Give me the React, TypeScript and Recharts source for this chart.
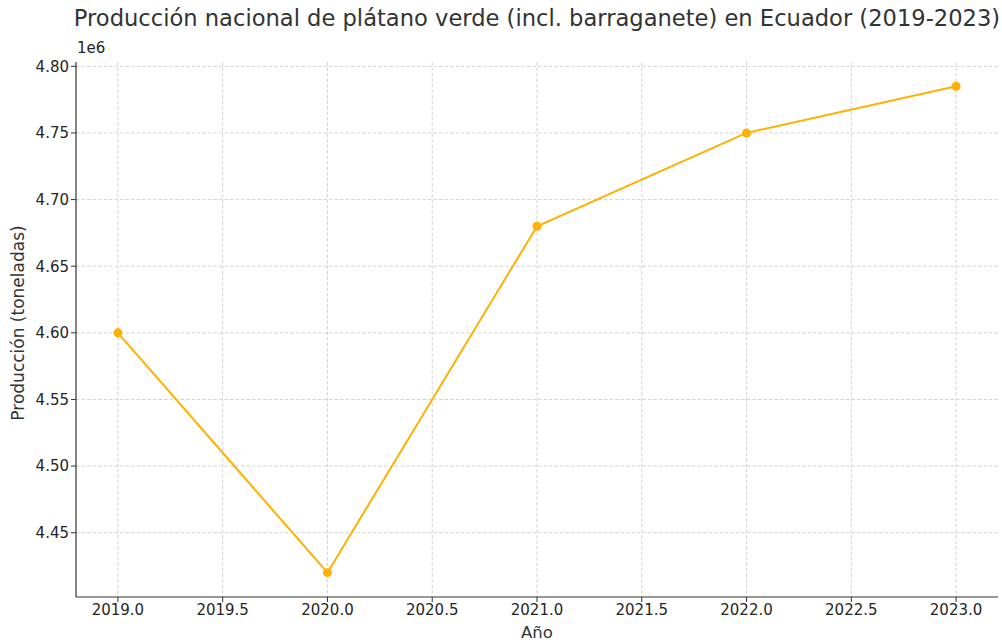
import type { JSX } from "react";

import { CartesianGrid, Line, LineChart, XAxis, YAxis } from "recharts";

const years = [2019, 2020, 2021, 2022, 2023];
const production = [4600000, 4420000, 4680000, 4750000, 4785000];
const xTicks = [2019, 2019.5, 2020, 2020.5, 2021, 2021.5, 2022, 2022.5, 2023];
const yTicks = [4450000, 4500000, 4550000, 4600000, 4650000, 4700000, 4750000, 4800000];

const xDomain = [2018.8, 2023.2];
const yDomain = [4401750, 4803250];

const data = years.map((year, i) => ({ year, value: production[i] }));

const font = "'DejaVu Sans', sans-serif";
const tickStyle = { fill: "#262626", fontSize: 15, fontFamily: font };

// grid lines only at the ticks (no lines on the plot edges)
const gridX = ({ offset }: any) =>
	xTicks.map((t) => offset.left + ((t - xDomain[0]) / (xDomain[1] - xDomain[0])) * offset.width);
const gridY = ({ offset }: any) =>
	yTicks.map((t) => offset.top + (1 - (t - yDomain[0]) / (yDomain[1] - yDomain[0])) * offset.height);

export default function App(): JSX.Element {
	return (
		<div style={{ position: "absolute", left: 0, top: 0, width: 1002, height: 642, background: "#fff", fontFamily: font }}>
			<div
				style={{
					position: "absolute",
					left: 37,
					width: 1000,
					top: 5,
					textAlign: "center",
					fontSize: 22.6,
					color: "#333",
					whiteSpace: "nowrap",
				}}
			>
				Producción nacional de plátano verde (incl. barraganete) en Ecuador (2019-2023)
			</div>
			<div style={{ position: "absolute", left: 77, top: 39, fontSize: 15, color: "#262626" }}>1e6</div>
			<div
				style={{
					position: "absolute",
					left: 18,
					top: 323,
					transform: "translate(-50%, -50%) rotate(-90deg)",
					whiteSpace: "nowrap",
					fontSize: 17,
					color: "#333",
				}}
			>
				Producción (toneladas)
			</div>
			<div style={{ position: "absolute", left: 76, width: 922, top: 623, textAlign: "center", fontSize: 16.5, color: "#333" }}>
				Año
			</div>
			<LineChart data={data} height={642} margin={{ bottom: 0, left: 0, right: 4, top: 62 }} width={1002}>
				<CartesianGrid
					horizontalCoordinatesGenerator={gridY}
					stroke="#d3d3d3"
					strokeDasharray="3.5 2"
					verticalCoordinatesGenerator={gridX}
				/>
				<XAxis
					axisLine={{ stroke: "#333", strokeWidth: 1.2 }}
					dataKey="year"
					domain={xDomain}
					height={45}
					tick={tickStyle}
					tickFormatter={(v) => Number(v).toFixed(1)}
					tickLine={{ stroke: "#333" }}
					tickSize={5}
					ticks={xTicks}
					type="number"
				/>
				<YAxis
					axisLine={{ stroke: "#333", strokeWidth: 1.2 }}
					domain={yDomain}
					tick={tickStyle}
					tickFormatter={(v) => (Number(v) / 1e6).toFixed(2)}
					tickLine={{ stroke: "#333" }}
					tickSize={5}
					ticks={yTicks}
					type="number"
					width={76}
				/>
				<Line
					dataKey="value"
					dot={{ r: 4.5, fill: "#FFB000", stroke: "#FFB000", strokeWidth: 0 }}
					isAnimationActive={false}
					stroke="#FFB000"
					strokeWidth={2}
					type="linear"
				/>
			</LineChart>
		</div>
	);
}
